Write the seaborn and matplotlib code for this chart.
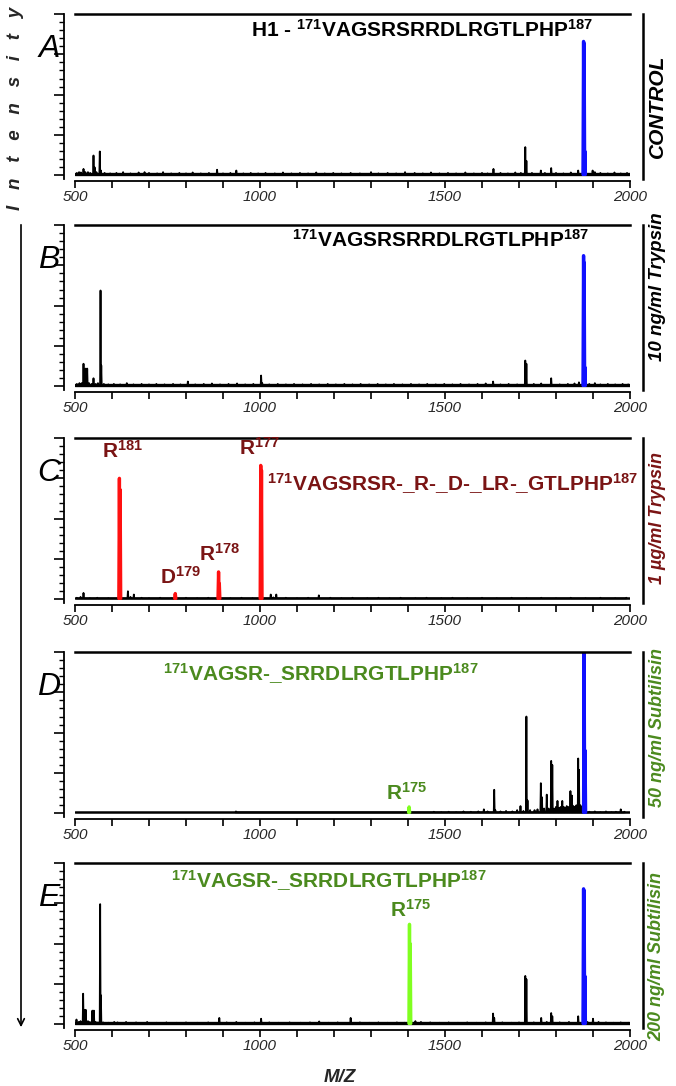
import matplotlib
matplotlib.use("Agg")
import numpy as np
import pandas as pd
import matplotlib.pyplot as plt
import seaborn as sns
from matplotlib import font_manager
from matplotlib.ticker import MultipleLocator

# ---- data (m/z, relative intensity) ----
a_mz = [505, 511, 516, 523, 528, 535, 541, 550, 553, 558, 567, 570, 580, 595, 612, 630, 650, 672,
        688, 700, 722, 738, 760, 782, 800, 818, 840, 862, 884, 900, 920, 936, 955, 975, 995, 1015,
        1040, 1062, 1085, 1108, 1130, 1152, 1175, 1198, 1220, 1245, 1270, 1300, 1320, 1345, 1368,
        1392, 1418, 1440, 1462, 1485, 1508, 1530, 1555, 1578, 1600, 1615, 1631, 1650, 1670, 1690,
        1705, 1717, 1720, 1735, 1759, 1770, 1787, 1800, 1820, 1840, 1860, 1899, 1905, 1920, 1940,
        1958, 1975, 1992]
a_int = [.015, .02, .018, .04, .02, .02, .015, .123, .05, .02, .148, .03, .015, .012, .015, .02, .012,
         .018, .02, .015, .012, .02, .012, .015, .012, .018, .012, .015, .035, .012, .015, .03, .012,
         .015, .012, .015, .012, .018, .012, .015, .012, .018, .012, .015, .012, .015, .012, .02, .012,
         .015, .012, .02, .015, .012, .018, .012, .015, .012, .018, .012, .015, .012, .04, .015, .012,
         .018, .015, .175, .09, .015, .03, .015, .045, .015, .012, .018, .03, .03, .02, .015, .012,
         .018, .012, .015]
a_blue_mz = [1874.5, 1876, 1878]
a_blue_int = [.83, .82, .15]

b_mz = [505, 512, 518, 523, 526, 529, 533, 538, 545, 550, 556, 562, 569, 571, 578, 590, 605, 622,
        640, 658, 680, 700, 720, 742, 765, 785, 805, 825, 848, 870, 892, 915, 938, 960, 982, 1003,
        1006, 1025, 1048, 1070, 1092, 1115, 1138, 1160, 1183, 1205, 1228, 1250, 1272, 1295, 1318,
        1340, 1362, 1385, 1408, 1430, 1452, 1475, 1498, 1520, 1542, 1565, 1588, 1610, 1630, 1650,
        1672, 1695, 1717, 1720, 1740, 1760, 1787, 1810, 1832, 1850, 1862, 1890, 1905, 1920, 1940,
        1960, 1980, 1995]
b_int = [.015, .02, .02, .14, .03, .11, .11, .02, .015, .05, .015, .02, .594, .13, .015, .012, .015,
         .012, .02, .012, .015, .012, .015, .012, .015, .012, .03, .012, .015, .018, .012, .015, .018,
         .012, .015, .067, .02, .012, .015, .012, .015, .012, .015, .012, .015, .012, .015, .012, .015,
         .012, .015, .012, .015, .012, .015, .012, .015, .012, .015, .012, .015, .012, .015, .018, .03,
         .012, .015, .012, .16, .14, .015, .018, .05, .012, .015, .018, .025, .015, .02, .012, .015,
         .012, .015, .012]
b_blue_mz = [1874.5, 1876, 1878]
b_blue_int = [.81, .77, .12]

c_mz = [505, 515, 523, 540, 560, 590, 643, 650, 659, 680, 700, 730, 760, 800, 830, 860, 920, 950,
        980, 1029, 1036, 1044, 1070, 1100, 1130, 1159, 1190, 1220, 1250, 1290, 1320, 1350, 1380,
        1420, 1450, 1490, 1520, 1560, 1600, 1640, 1680, 1720, 1760, 1800, 1840, 1880, 1920, 1960, 1990]
c_int = [.01, .015, .04, .008, .01, .008, .05, .015, .03, .01, .008, .01, .008, .01, .008, .01, .008,
         .01, .008, .03, .012, .03, .01, .008, .01, .025, .01, .008, .01, .008, .01, .008, .01, .008,
         .01, .008, .01, .008, .01, .008, .01, .008, .01, .008, .01, .008, .01, .008, .01]
c_red_mz = [620, 622, 771, 888, 890, 1002, 1004]
c_red_int = [.75, .68, .036, .17, .10, .83, .80]

d_mz = [935, 1470, 1490, 1510, 1530, 1550, 1570, 1590, 1605, 1615, 1633, 1636, 1650, 1665, 1682,
        1695, 1704, 1712, 1720, 1723, 1730, 1742, 1750, 1759, 1762, 1768, 1775, 1780, 1787, 1790,
        1795, 1800, 1804, 1809, 1813, 1817, 1821, 1825, 1829, 1833, 1839, 1843, 1847, 1851, 1855,
        1860, 1862, 1866, 1870, 1890, 1905, 1920, 1935, 1950, 1962, 1975, 1985]
d_int = [.012, .01, .008, .01, .008, .012, .01, .012, .025, .012, .146, .02, .012, .015, .012, .02,
         .045, .015, .60, .08, .02, .02, .025, .187, .10, .03, .116, .03, .325, .30, .03, .04, .077,
         .035, .04, .077, .04, .035, .045, .04, .138, .11, .045, .04, .05, .34, .27, .05, .04, .01,
         .012, .008, .012, .008, .01, .025, .01]
d_blue_mz = [1876, 1878.5]
d_blue_int = [1.0, .39]
d_green_mz = [1403]
d_green_int = [.04]

e_mz = [504, 510, 515, 522, 525, 529, 535, 540, 547, 551, 556, 562, 568, 570, 576, 590, 606, 615,
        638, 665, 695, 720, 747, 775, 800, 830, 860, 890, 910, 936, 960, 985, 1003, 1025, 1050,
        1080, 1110, 1135, 1160, 1185, 1210, 1245, 1270, 1295, 1320, 1345, 1370, 1390, 1420, 1435,
        1460, 1485, 1510, 1535, 1560, 1585, 1610, 1630, 1633, 1655, 1680, 1700, 1717, 1720, 1740,
        1760, 1775, 1787, 1790, 1810, 1835, 1860, 1885, 1900, 1915, 1935, 1955, 1975, 1995]
e_int = [.03, .015, .02, .19, .09, .09, .02, .015, .085, .085, .015, .012, .745, .18, .012, .01, .015,
         .012, .015, .012, .015, .01, .012, .01, .012, .01, .012, .04, .012, .015, .01, .012, .035,
         .012, .01, .012, .01, .012, .018, .01, .012, .04, .012, .01, .012, .01, .012, .01, .02, .015,
         .012, .01, .012, .01, .012, .01, .012, .067, .04, .012, .01, .012, .30, .28, .012, .04, .015,
         .07, .05, .012, .015, .05, .015, .035, .015, .012, .01, .012, .01]
e_blue_mz = [1874.5, 1876, 1878]
e_blue_int = [.84, .83, .30]
e_green_mz = [1404, 1406]
e_green_int = [.62, .50]

panel_letters = ["A", "B", "C", "D", "E"]
side_labels = ["CONTROL", "10 ng/ml Trypsin", "1 µg/ml Trypsin",
               "50 ng/ml Subtilisin", "200 ng/ml Subtilisin"]
x_ticks = [500, 1000, 1500, 2000]

BLUE = "#1010ff"
RED = "#ff1010"
DARKRED = "#7a1414"
GREEN = "#4b8a1e"
LIME = "#80ff20"


def profile(mz, inten, w=1.2, base=0.006):
    xs, ys, ids = [], [], []
    for i, (m, h) in enumerate(sorted(zip(mz, inten))):
        xs += [m - w, m, m + w]
        ys += [base, h, base]
        ids += [i, i, i]
    return pd.DataFrame({"mz": xs, "intensity": ys, "peak": ids})


def draw_sticks(ax, mz, inten, color, lw, w=1.2, separate=False):
    df = profile(mz, inten, w)
    if separate:
        sns.lineplot(data=df, x="mz", y="intensity", units="peak", estimator=None,
                     sort=False, color=color, lw=lw, ax=ax)
    else:
        sns.lineplot(data=df, x="mz", y="intensity", estimator=None,
                     sort=False, color=color, lw=lw, ax=ax)


def style_axis(ax):
    ax.set_xlim(500, 2000)
    ax.set_ylim(-0.035, 1.0)
    for s in ax.spines.values():
        s.set_color("black")
    ax.spines["left"].set_position(("outward", 8))
    ax.spines["left"].set_bounds(-0.02, 1.0)
    ax.spines["left"].set_linewidth(1.3)
    ax.spines["right"].set_position(("outward", 9))
    ax.spines["right"].set_bounds(-0.02, 1.0)
    ax.spines["right"].set_linewidth(1.8)
    ax.spines["top"].set_linewidth(1.8)
    ax.spines["bottom"].set_linewidth(1.3)
    ax.yaxis.set_major_locator(MultipleLocator(0.25))
    ax.yaxis.set_minor_locator(MultipleLocator(0.05))
    ax.tick_params(axis="y", which="major", direction="out", length=7, width=1.2,
                   left=True, right=False, labelleft=False, color="black")
    ax.tick_params(axis="y", which="minor", direction="out", length=3.5, width=1.0,
                   left=True, right=False, color="black")
    ax.set_xticks(x_ticks, labels=[str(t) for t in x_ticks], fontstyle="italic", fontsize=11)
    ax.xaxis.set_minor_locator(MultipleLocator(100))
    ax.tick_params(axis="x", which="both", direction="out", length=5, width=1.2,
                   pad=1.5, color="black", bottom=True, top=False)
    ax.set_xlabel("")
    ax.set_ylabel("")


sns.set_theme(style="ticks")
plt.rcParams["font.family"] = ["Liberation Sans", "DejaVu Sans"]

installed = {f.name for f in font_manager.fontManager.ttflist}
if "Liberation Sans Narrow" in installed:
    title_family, title_size = "Liberation Sans Narrow", 17
else:
    title_family, title_size = "Liberation Sans", 15
plt.rcParams["mathtext.fontset"] = "custom"
plt.rcParams["mathtext.rm"] = title_family
plt.rcParams["mathtext.bf"] = title_family + ":bold"
plt.rcParams["mathtext.it"] = title_family + ":italic"

W, H = 676, 1086
fig = plt.figure(figsize=(W / 100, H / 100), dpi=100)
tops = [14, 225, 438, 652, 863]
ax_h = 167
left_px, right_px = 75, 630

axes = []
for top in tops:
    ax = fig.add_axes([left_px / W, 1 - (top + ax_h) / H, (right_px - left_px) / W, ax_h / H])
    axes.append(ax)

black = [(a_mz, a_int), (b_mz, b_int), (c_mz, c_int), (d_mz, d_int), (e_mz, e_int)]
base_lw = [2.4, 2.4, 1.8, 1.8, 2.4]
for ax, (mz, inten), blw in zip(axes, black, base_lw):
    ax.axhline(0.008, color="black", lw=blw, zorder=1)
    draw_sticks(ax, mz, inten, "black", 1.3)

draw_sticks(axes[0], a_blue_mz, a_blue_int, BLUE, 2.4, 1.5, True)
draw_sticks(axes[1], b_blue_mz, b_blue_int, BLUE, 2.4, 1.5, True)
draw_sticks(axes[2], c_red_mz, c_red_int, RED, 2.4, 1.5, True)
draw_sticks(axes[3], d_blue_mz, d_blue_int, BLUE, 2.4, 1.5, True)
draw_sticks(axes[3], d_green_mz, d_green_int, LIME, 2.4, 1.5, True)
draw_sticks(axes[4], e_green_mz, e_green_int, LIME, 2.4, 1.5, True)
draw_sticks(axes[4], e_blue_mz, e_blue_int, BLUE, 2.4, 1.5, True)

for ax in axes:
    style_axis(ax)

seq = r"VAGSRSRRDLRGTLPHP"
sup1 = r"$^{\mathbf{171}}$"
sup2 = r"$^{\mathbf{187}}$"
tkw = dict(fontsize=title_size, fontweight="bold", family=title_family)
axes[0].text(1900, 0.90, "H1 - " + sup1 + seq + sup2, ha="right", va="center", color="black", **tkw)
axes[1].text(1890, 0.91, sup1 + seq + sup2, ha="right", va="center", color="black", **tkw)
axes[2].text(2022, 0.72, sup1 + "VAGSRSR-_R-_D-_LR-_GTLPHP" + sup2, ha="right", va="center",
             color=DARKRED, clip_on=False, **tkw)
axes[3].text(1165, 0.865, sup1 + "VAGSR-_SRRDLRGTLPHP" + sup2, ha="center", va="center",
             color=GREEN, **tkw)
axes[4].text(1185, 0.89, sup1 + "VAGSR-_SRRDLRGTLPHP" + sup2, ha="center", va="center",
             color=GREEN, **tkw)

lkw = dict(fontsize=15, fontweight="bold", family=title_family, ha="center", va="center")
axes[2].text(628, 0.92, r"R$^{\mathbf{181}}$", color=DARKRED, **lkw)
axes[2].text(1000, 0.94, r"R$^{\mathbf{177}}$", color=DARKRED, **lkw)
axes[2].text(786, 0.14, r"D$^{\mathbf{179}}$", color=DARKRED, **lkw)
axes[2].text(890, 0.28, r"R$^{\mathbf{178}}$", color=DARKRED, **lkw)
axes[3].text(1395, 0.13, r"R$^{\mathbf{175}}$", color=GREEN, **lkw)
axes[4].text(1407, 0.71, r"R$^{\mathbf{175}}$", color=GREEN, **lkw)

side_colors = ["black", "black", DARKRED, GREEN, GREEN]
side_y = [0.45, 0.63, 0.52, 0.545, 0.44]
side_size = [15, 13.5, 13, 13, 13]
for ax, letter, lab, col, sy, fs in zip(axes, panel_letters, side_labels, side_colors, side_y,
                                        side_size):
    ax.text(-0.047, 0.78, letter, transform=ax.get_yaxis_transform(), fontsize=23,
            fontstyle="italic", ha="center", va="center", color="black")
    ax.text(1.049, sy, lab, transform=ax.transAxes, rotation=90, fontsize=fs,
            fontweight="bold", fontstyle="italic", ha="center", va="center", color=col)

fig.text(16 / W, 1 - 108 / H, "I   n   t   e   n   s   i   t   y", rotation=90, fontsize=13.5,
         fontweight="bold", fontstyle="italic", ha="center", va="center")
fig.text(340 / W, 1 - 1077 / H, "M/Z", fontsize=13.5, fontweight="bold", fontstyle="italic",
         ha="center", va="center")
axes[0].annotate("", xy=(21 / W, 1 - 1030 / H), xytext=(21 / W, 1 - 222 / H),
                 xycoords="figure fraction", textcoords="figure fraction",
                 arrowprops=dict(arrowstyle="->", lw=1.2, color="black", mutation_scale=12),
                 annotation_clip=False)

fig.savefig("out.png", dpi=100)
